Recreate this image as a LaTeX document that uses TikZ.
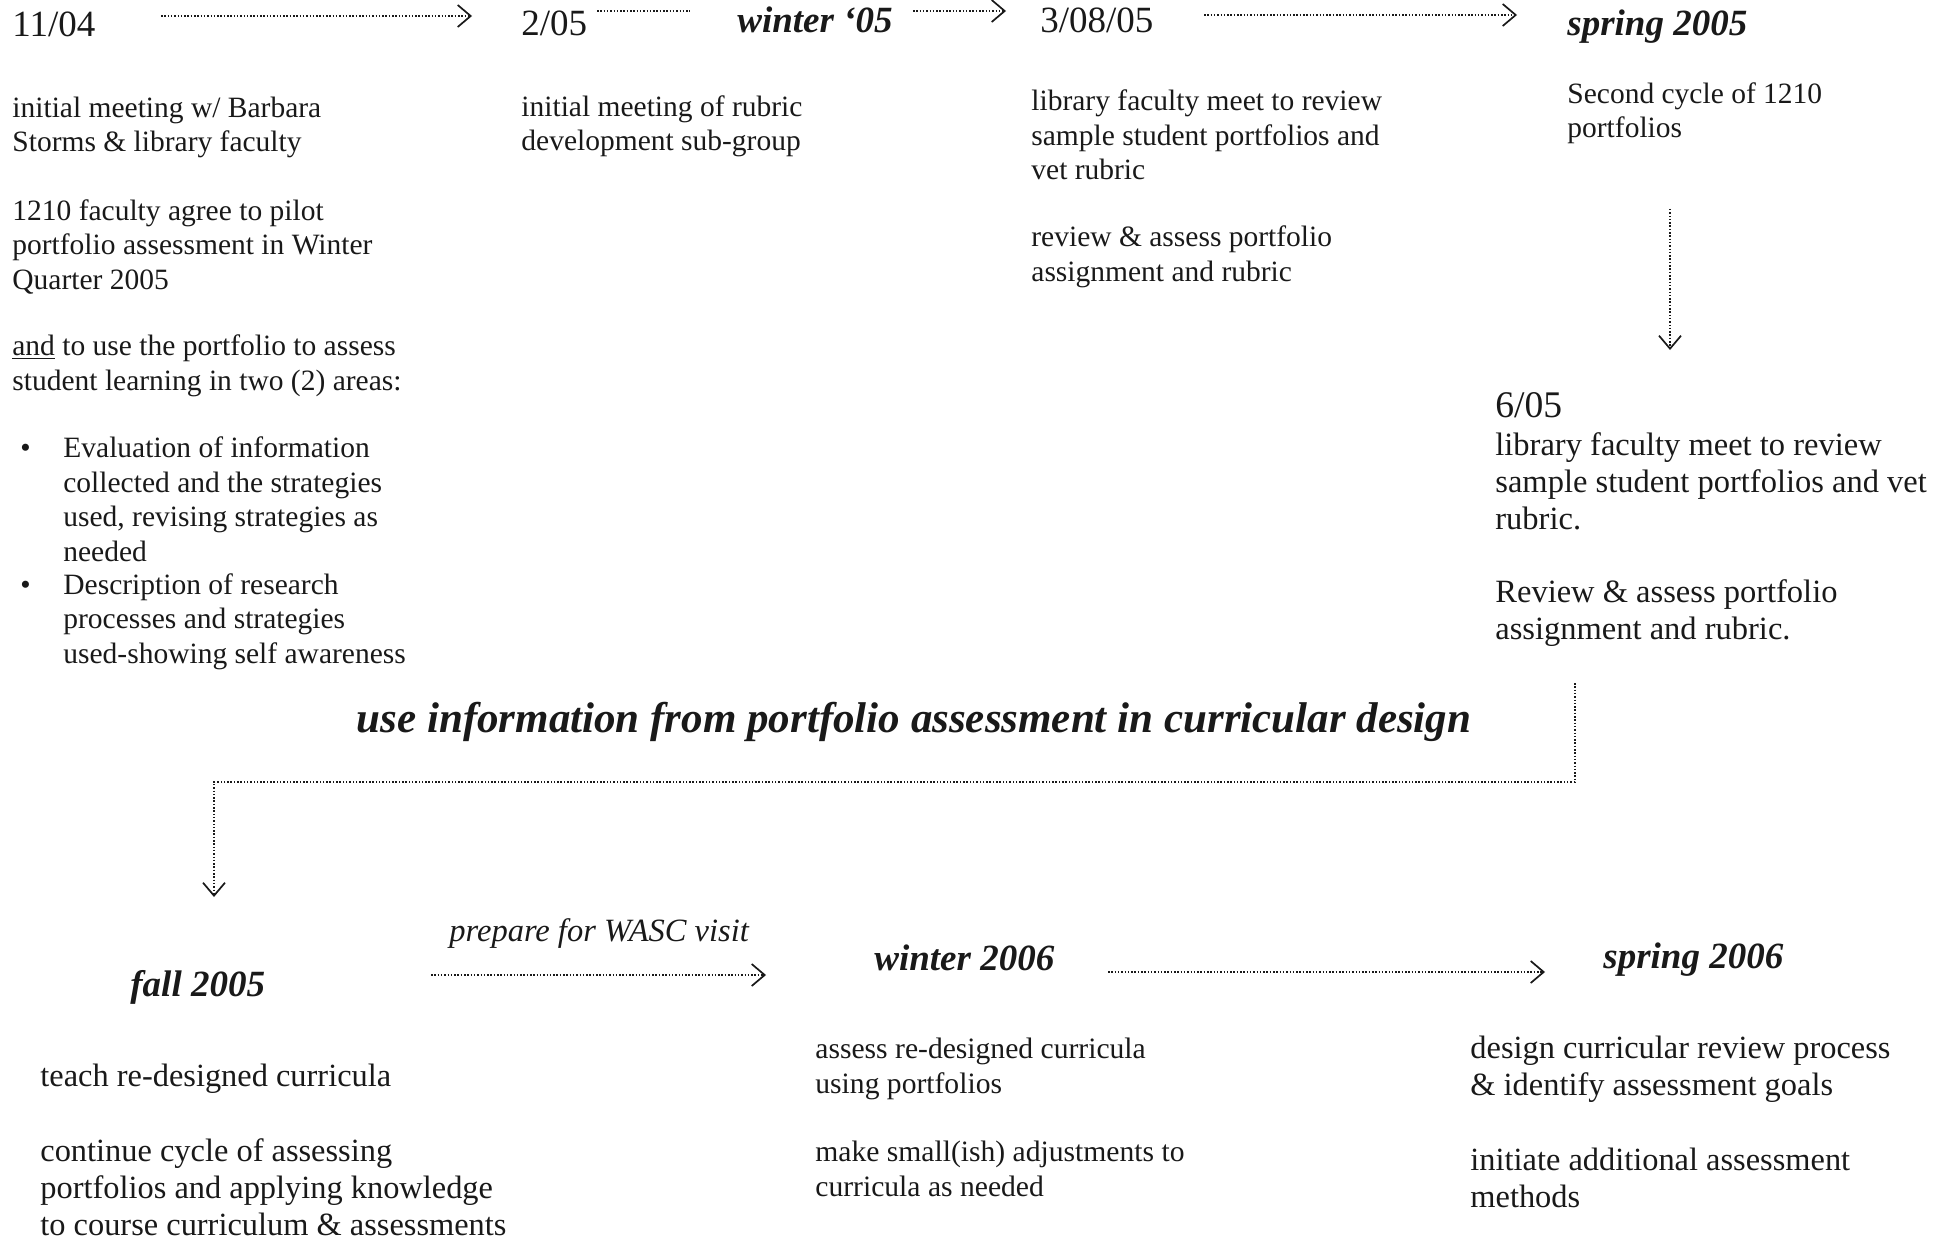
\documentclass[tikz,border=0pt]{standalone}
\usepackage{fontspec}
\setmainfont{Liberation Serif}
\usetikzlibrary{arrows.meta}
\definecolor{ink}{gray}{0.1}
\tikzset{
 txt/.style={anchor=base west, inner sep=0pt, align=left, text=ink, font=\fontsize{14.75}{17.25}\selectfont},
 txtb/.style={txt, font=\fontsize{16.2}{18.3}\selectfont},
 txtm/.style={txt, font=\fontsize{14.8}{17.25}\selectfont},
 txtr/.style={txt, font=\fontsize{16.25}{18.5}\selectfont},
 datefont/.style={anchor=base west, inner sep=0pt, text=ink, font=\fontsize{18.5}{22}\selectfont},
 season/.style={anchor=base west, inner sep=0pt, text=ink, font=\fontsize{18.5}{22}\selectfont\bfseries\itshape},
 dotline/.style={draw=ink, line width=0.75pt, dash pattern=on 0.75pt off 0.9pt},
 arr/.style={dotline, -{Straight Barb[length=6.5pt,width=11pt,line width=0.85pt]}},
}
\begin{document}
\begin{tikzpicture}[x=0.5pt,y=-0.5pt]
\useasboundingbox (0,0) rectangle (1947,1241);
% top row
\node[datefont] (d1) at (12,37) {11/04};
\node[datefont] (d2) at (521,36) {2/05};
\node[season] (d3) at (737,33) {winter ‘05};
\node[datefont] (d4) at (1040,33) {3/08/05};
\node[season] (d5) at (1567,36) {spring 2005};
\coordinate (a1s) at (161,16); \coordinate (a1e) at (472,16);
\coordinate (l2s) at (597,11); \coordinate (l2e) at (690,11);
\coordinate (a3s) at (913,11); \coordinate (a3e) at (1006,11);
\coordinate (a4s) at (1204,15); \coordinate (a4e) at (1517,15);
\draw[arr] (a1s) -- (a1e);
\draw[dotline] (l2s) -- (l2e);
\draw[arr] (a3s) -- (a3e);
\draw[arr] (a4s) -- (a4e);
% left column (node positions give the baseline of the last line)
\node[txt] (p1) at (12,152) {initial meeting w/ Barbara\\Storms \& library faculty};
\node[txt] (p2) at (12,289) {1210 faculty agree to pilot\\portfolio assessment in Winter\\Quarter 2005};
\node[txt] (p3) at (12,390) {\underline{and} to use the portfolio to assess\\student learning in two (2) areas:};
\node[txt] (b1) at (63,561) {\llap{\makebox[21.5pt][l]{•}}Evaluation of information\\collected and the strategies\\used, revising strategies as\\needed};
\node[txt] (b2) at (63,663) {\llap{\makebox[21.5pt][l]{•}}Description of research\\processes and strategies\\used-showing self awareness};
% middle and right columns
\node[txt] (m1) at (521,151) {initial meeting of rubric\\development sub-group};
\node[txt] (c1) at (1031,180) {library faculty meet to review\\sample student portfolios and\\vet rubric};
\node[txt] (c2) at (1031,281) {review \& assess portfolio\\assignment and rubric};
\node[txt] (s1) at (1567,138) {Second cycle of 1210\\portfolios};
\coordinate (v1s) at (1670,209); \coordinate (v1e) at (1670,350);
\draw[arr] (v1s) -- (v1e);
\node[datefont, font=\fontsize{18.8}{22}\selectfont] (d6) at (1495,417) {6/05};
\node[txtr] (r1) at (1495,529) {library faculty meet to review\\sample student portfolios and vet\\rubric.};
\node[txtr] (r2) at (1495,639) {Review \& assess portfolio\\assignment and rubric.};
% headline
\node[anchor=base, inner sep=0pt, text=ink, font=\fontsize{21.5}{26}\selectfont\bfseries\itshape] (hl) at (914,732) {use information from portfolio assessment in curricular design};
\coordinate (k1) at (1575,683); \coordinate (k2) at (1575,782);
\coordinate (k3) at (214,782); \coordinate (k4) at (214,897);
\draw[arr] (k1) -- (k2) -- (k3) -- (k4);
% bottom row
\node[season] (f1) at (130,996) {fall 2005};
\node[season] (w6) at (874,970) {winter 2006};
\node[season] (s6) at (1603,968) {spring 2006};
\node[anchor=base west, inner sep=0pt, text=ink, font=\fontsize{16.25}{19}\selectfont\itshape] (wasc) at (449,941) {prepare for WASC visit};
\coordinate (b1s) at (431,975); \coordinate (b1e) at (766,975);
\coordinate (b2s) at (1108,972); \coordinate (b2e) at (1545,972);
\draw[arr] (b1s) -- (b1e);
\draw[arr] (b2s) -- (b2e);
\node[txtb] (t1) at (40,1086) {teach re-designed curricula};
\node[txtb] (t2) at (40,1235) {continue cycle of assessing\\portfolios and applying knowledge\\to course curriculum \& assessments};
\node[txtm] (u1) at (815,1093) {assess re-designed curricula\\using portfolios};
\node[txtm] (u2) at (815,1196) {make small(ish) adjustments to\\curricula as needed};
\node[txtb] (q1) at (1470,1095) {design curricular review process\\\& identify assessment goals};
\node[txtb] (q2) at (1470,1207) {initiate additional assessment\\methods};
\end{tikzpicture}
\end{document}
